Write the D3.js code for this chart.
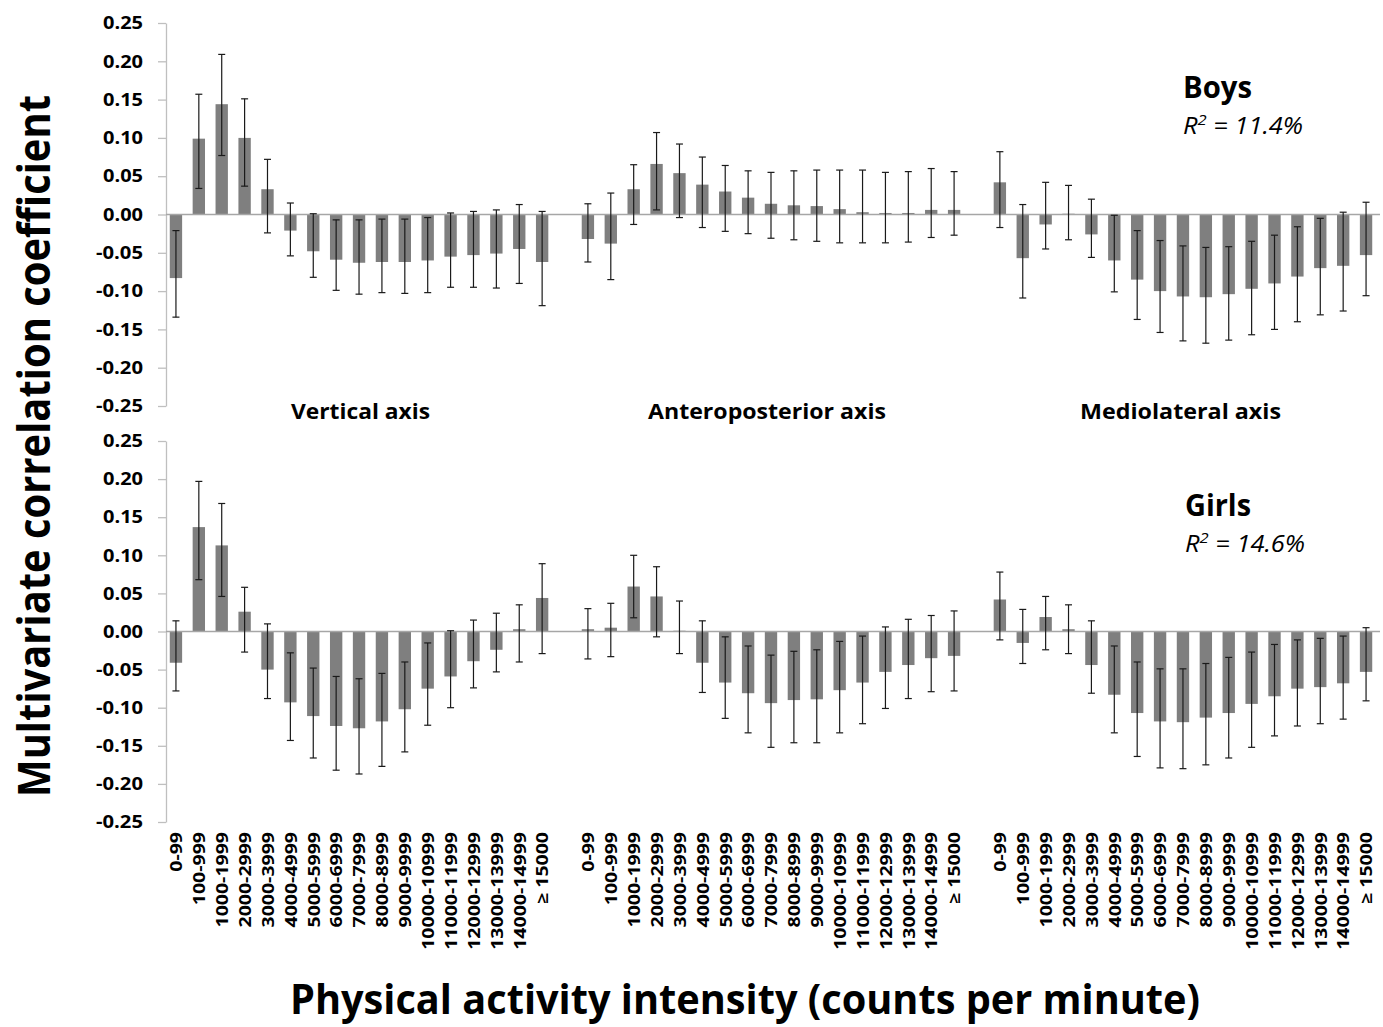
<!DOCTYPE html>
<html>
<head>
<meta charset="utf-8">
<script src="https://cdn.jsdelivr.net/npm/d3@7"></script>
<style>
  body { margin: 0; background: #fff; }
  text { font-family: "Open Sans", sans-serif; }
</style>
</head>
<body>
<svg id="chart" width="1383" height="1027"></svg>
<script>
// categories (counts per minute) and the three accelerometer axes
const categories = ['0-99', '100-999', '1000-1999', '2000-2999', '3000-3999', '4000-4999',
  '5000-5999', '6000-6999', '7000-7999', '8000-8999', '9000-9999', '10000-10999',
  '11000-11999', '12000-12999', '13000-13999', '14000-14999', '\u2265 15000'];
const axesNames = ['Vertical axis', 'Anteroposterior axis', 'Mediolateral axis'];
const yTickValues = [-0.25, -0.20, -0.15, -0.10, -0.05, 0, 0.05, 0.10, 0.15, 0.20, 0.25];

// boys: coefficient, lower and upper end of the error bar
const boysVertical = [-0.083, 0.099, 0.144, 0.100, 0.033, -0.021, -0.048, -0.059, -0.063, -0.062, -0.062, -0.060, -0.055, -0.053, -0.051, -0.045, -0.062];
const boysVerticalLo = [-0.134, 0.034, 0.077, 0.037, -0.024, -0.054, -0.082, -0.099, -0.104, -0.102, -0.103, -0.102, -0.095, -0.095, -0.096, -0.090, -0.119];
const boysVerticalHi = [-0.021, 0.157, 0.209, 0.151, 0.072, 0.015, 0.001, -0.007, -0.007, -0.006, -0.006, -0.004, 0.002, 0.004, 0.006, 0.013, 0.004];

const boysAP = [-0.032, -0.038, 0.033, 0.066, 0.054, 0.039, 0.030, 0.022, 0.014, 0.012, 0.011, 0.007, 0.003, 0.002, 0.002, 0.006, 0.006];
const boysAPLo = [-0.062, -0.085, -0.013, 0.006, -0.004, -0.017, -0.022, -0.025, -0.031, -0.033, -0.035, -0.037, -0.037, -0.037, -0.036, -0.030, -0.027];
const boysAPHi = [0.014, 0.028, 0.065, 0.107, 0.092, 0.075, 0.064, 0.057, 0.055, 0.057, 0.058, 0.058, 0.058, 0.055, 0.056, 0.060, 0.056];

const boysML = [0.042, -0.057, -0.013, 0.001, -0.026, -0.060, -0.085, -0.100, -0.107, -0.108, -0.104, -0.097, -0.090, -0.081, -0.070, -0.067, -0.053];
const boysMLLo = [-0.017, -0.109, -0.045, -0.033, -0.056, -0.101, -0.137, -0.154, -0.165, -0.168, -0.164, -0.157, -0.150, -0.140, -0.131, -0.126, -0.106];
const boysMLHi = [0.082, 0.013, 0.042, 0.038, 0.020, -0.001, -0.021, -0.034, -0.041, -0.043, -0.042, -0.035, -0.027, -0.016, -0.005, 0.003, 0.016];

// girls
const girlsVertical = [-0.041, 0.137, 0.113, 0.026, -0.050, -0.093, -0.111, -0.124, -0.127, -0.118, -0.102, -0.075, -0.059, -0.039, -0.024, 0.003, 0.044];
const girlsVerticalLo = [-0.078, 0.068, 0.046, -0.027, -0.088, -0.143, -0.166, -0.182, -0.187, -0.177, -0.158, -0.123, -0.100, -0.074, -0.053, -0.040, -0.029];
const girlsVerticalHi = [0.014, 0.197, 0.168, 0.058, 0.010, -0.028, -0.048, -0.059, -0.062, -0.055, -0.040, -0.015, 0.001, 0.015, 0.024, 0.035, 0.089];

const girlsAP = [0.003, 0.005, 0.059, 0.046, 0.001, -0.041, -0.067, -0.081, -0.094, -0.090, -0.089, -0.077, -0.067, -0.053, -0.044, -0.035, -0.032];
const girlsAPLo = [-0.036, -0.033, 0.018, -0.007, -0.029, -0.080, -0.114, -0.133, -0.152, -0.146, -0.146, -0.133, -0.121, -0.101, -0.088, -0.079, -0.078];
const girlsAPHi = [0.030, 0.037, 0.100, 0.085, 0.040, 0.014, -0.007, -0.019, -0.031, -0.026, -0.024, -0.013, -0.006, 0.006, 0.016, 0.021, 0.027];

const girlsML = [0.042, -0.015, 0.019, 0.003, -0.044, -0.083, -0.107, -0.118, -0.119, -0.113, -0.107, -0.095, -0.085, -0.075, -0.073, -0.068, -0.053];
const girlsMLLo = [-0.011, -0.042, -0.024, -0.029, -0.081, -0.133, -0.164, -0.179, -0.180, -0.175, -0.166, -0.152, -0.137, -0.124, -0.121, -0.115, -0.091];
const girlsMLHi = [0.078, 0.029, 0.046, 0.035, 0.014, -0.019, -0.040, -0.049, -0.049, -0.042, -0.034, -0.027, -0.017, -0.011, -0.009, -0.006, 0.005];

const panels = [
  { sex: 'Boys', r2: ' = 11.4%', top: 23, bottom: 406,
    series: [[boysVertical, boysVerticalLo, boysVerticalHi],
             [boysAP, boysAPLo, boysAPHi],
             [boysML, boysMLLo, boysMLHi]] },
  { sex: 'Girls', r2: ' = 14.6%', top: 441, bottom: 822,
    series: [[girlsVertical, girlsVerticalLo, girlsVerticalHi],
             [girlsAP, girlsAPLo, girlsAPHi],
             [girlsML, girlsMLLo, girlsMLHi]] }
];

const BAR = '#7f7f7f';
const AXIS = '#bfbfbf';

const svg = d3.select('#chart');

// one slot per category, with an empty slot between the three axis groups
const slots = [];
axesNames.forEach((a, i) => {
  if (i > 0) slots.push('gap' + i);
  categories.forEach(c => slots.push(i + '|' + c));
});

const x = d3.scaleBand().domain(slots).range([164.5, 1377.5])
  .paddingInner(0.46).paddingOuter(0.23);

const fmt = d => d3.format('.2f')(d).replace('\u2212', '-');

panels.forEach(p => {
  const y = d3.scaleLinear().domain([-0.25, 0.25]).range([p.bottom, p.top]);
  const g = svg.append('g');

  const yAxis = g.append('g').attr('transform', 'translate(166,0)')
    .call(d3.axisLeft(y).tickValues(yTickValues).tickFormat(fmt)
      .tickSize(8).tickSizeOuter(0).tickPadding(15));
  yAxis.select('.domain').attr('stroke', AXIS).attr('stroke-width', 1.3);
  yAxis.selectAll('.tick line').attr('stroke', AXIS).attr('stroke-width', 1.3);
  yAxis.selectAll('.tick text').attr('font-size', 18).attr('font-weight', 'bold')
    .attr('fill', '#000').attr('font-family', '"Open Sans", sans-serif')
    .attr('textLength', d => d < 0 ? 47 : 40).attr('lengthAdjust', 'spacingAndGlyphs');

  const rows = [];
  p.series.forEach((s, ai) => {
    categories.forEach((c, ci) => {
      rows.push({ key: ai + '|' + c, v: s[0][ci], lo: s[1][ci], hi: s[2][ci] });
    });
  });

  g.selectAll('rect.bar').data(rows).join('rect')
    .attr('class', 'bar')
    .attr('x', d => x(d.key))
    .attr('width', x.bandwidth())
    .attr('y', d => Math.min(y(d.v), y(0)))
    .attr('height', d => Math.abs(y(d.v) - y(0)))
    .attr('fill', BAR);

  // zero line acting as category axis
  g.append('line')
    .attr('x1', 166).attr('x2', 1380)
    .attr('y1', y(0)).attr('y2', y(0))
    .attr('stroke', '#a6a6a6').attr('stroke-width', 1.5);

  const eb = g.selectAll('g.err').data(rows).join('g').attr('class', 'err')
    .attr('stroke', '#1a1a1a').attr('stroke-width', 1.2);
  const cx = d => x(d.key) + x.bandwidth() / 2;
  eb.append('line')
    .attr('x1', cx).attr('x2', cx)
    .attr('y1', d => y(d.lo)).attr('y2', d => y(d.hi));
  eb.append('line')
    .attr('x1', d => cx(d) - 3.5).attr('x2', d => cx(d) + 3.5)
    .attr('y1', d => y(d.lo)).attr('y2', d => y(d.lo));
  eb.append('line')
    .attr('x1', d => cx(d) - 3.5).attr('x2', d => cx(d) + 3.5)
    .attr('y1', d => y(d.hi)).attr('y2', d => y(d.hi));

  // sex label and R squared
  const lx = p.sex === 'Boys' ? 1183 : 1185;
  g.append('text').attr('x', lx).attr('y', p.top + 75)
    .attr('font-size', 30).attr('font-weight', 'bold')
    .attr('textLength', p.sex === 'Boys' ? 69 : 66).attr('lengthAdjust', 'spacingAndGlyphs')
    .text(p.sex);
  const r = g.append('text').attr('x', lx).attr('y', p.top + 111)
    .attr('font-size', 23).attr('font-style', 'italic')
    .attr('textLength', 120).attr('lengthAdjust', 'spacingAndGlyphs');
  r.append('tspan').text('R');
  r.append('tspan').attr('dy', -9).attr('font-size', 15).text('2');
  r.append('tspan').attr('dy', 9).text(p.r2);
});

// axis group names between the panels
const groupCenters = [360.5, 767, 1180.5];
const groupLengths = [139, 238, 201];
axesNames.forEach((a, i) => {
  svg.append('text').attr('x', groupCenters[i]).attr('y', 419)
    .attr('text-anchor', 'middle').attr('font-size', 22).attr('font-weight', 'bold')
    .attr('textLength', groupLengths[i]).attr('lengthAdjust', 'spacingAndGlyphs')
    .text(a);
});

// rotated category labels under the bottom panel
slots.filter(s => !s.startsWith('gap')).forEach(s => {
  const label = s.split('|')[1];
  svg.append('text')
    .attr('transform', `translate(${x(s) + x.bandwidth() / 2},832) rotate(-90) scale(1.22,1)`)
    .attr('text-anchor', 'end').attr('dominant-baseline', 'central')
    .attr('font-size', 16).attr('font-weight', 'bold')
    .text(label);
});

// axis titles
svg.append('text')
  .attr('transform', 'translate(50,446) rotate(-90)')
  .attr('text-anchor', 'middle').attr('font-size', 44).attr('font-weight', 'bold')
  .attr('textLength', 702).attr('lengthAdjust', 'spacingAndGlyphs')
  .text('Multivariate correlation coefficient');

svg.append('text')
  .attr('x', 745).attr('y', 1014)
  .attr('text-anchor', 'middle').attr('font-size', 42).attr('font-weight', 'bold')
  .attr('textLength', 910).attr('lengthAdjust', 'spacingAndGlyphs')
  .text('Physical activity intensity (counts per minute)');
</script>
</body>
</html>
